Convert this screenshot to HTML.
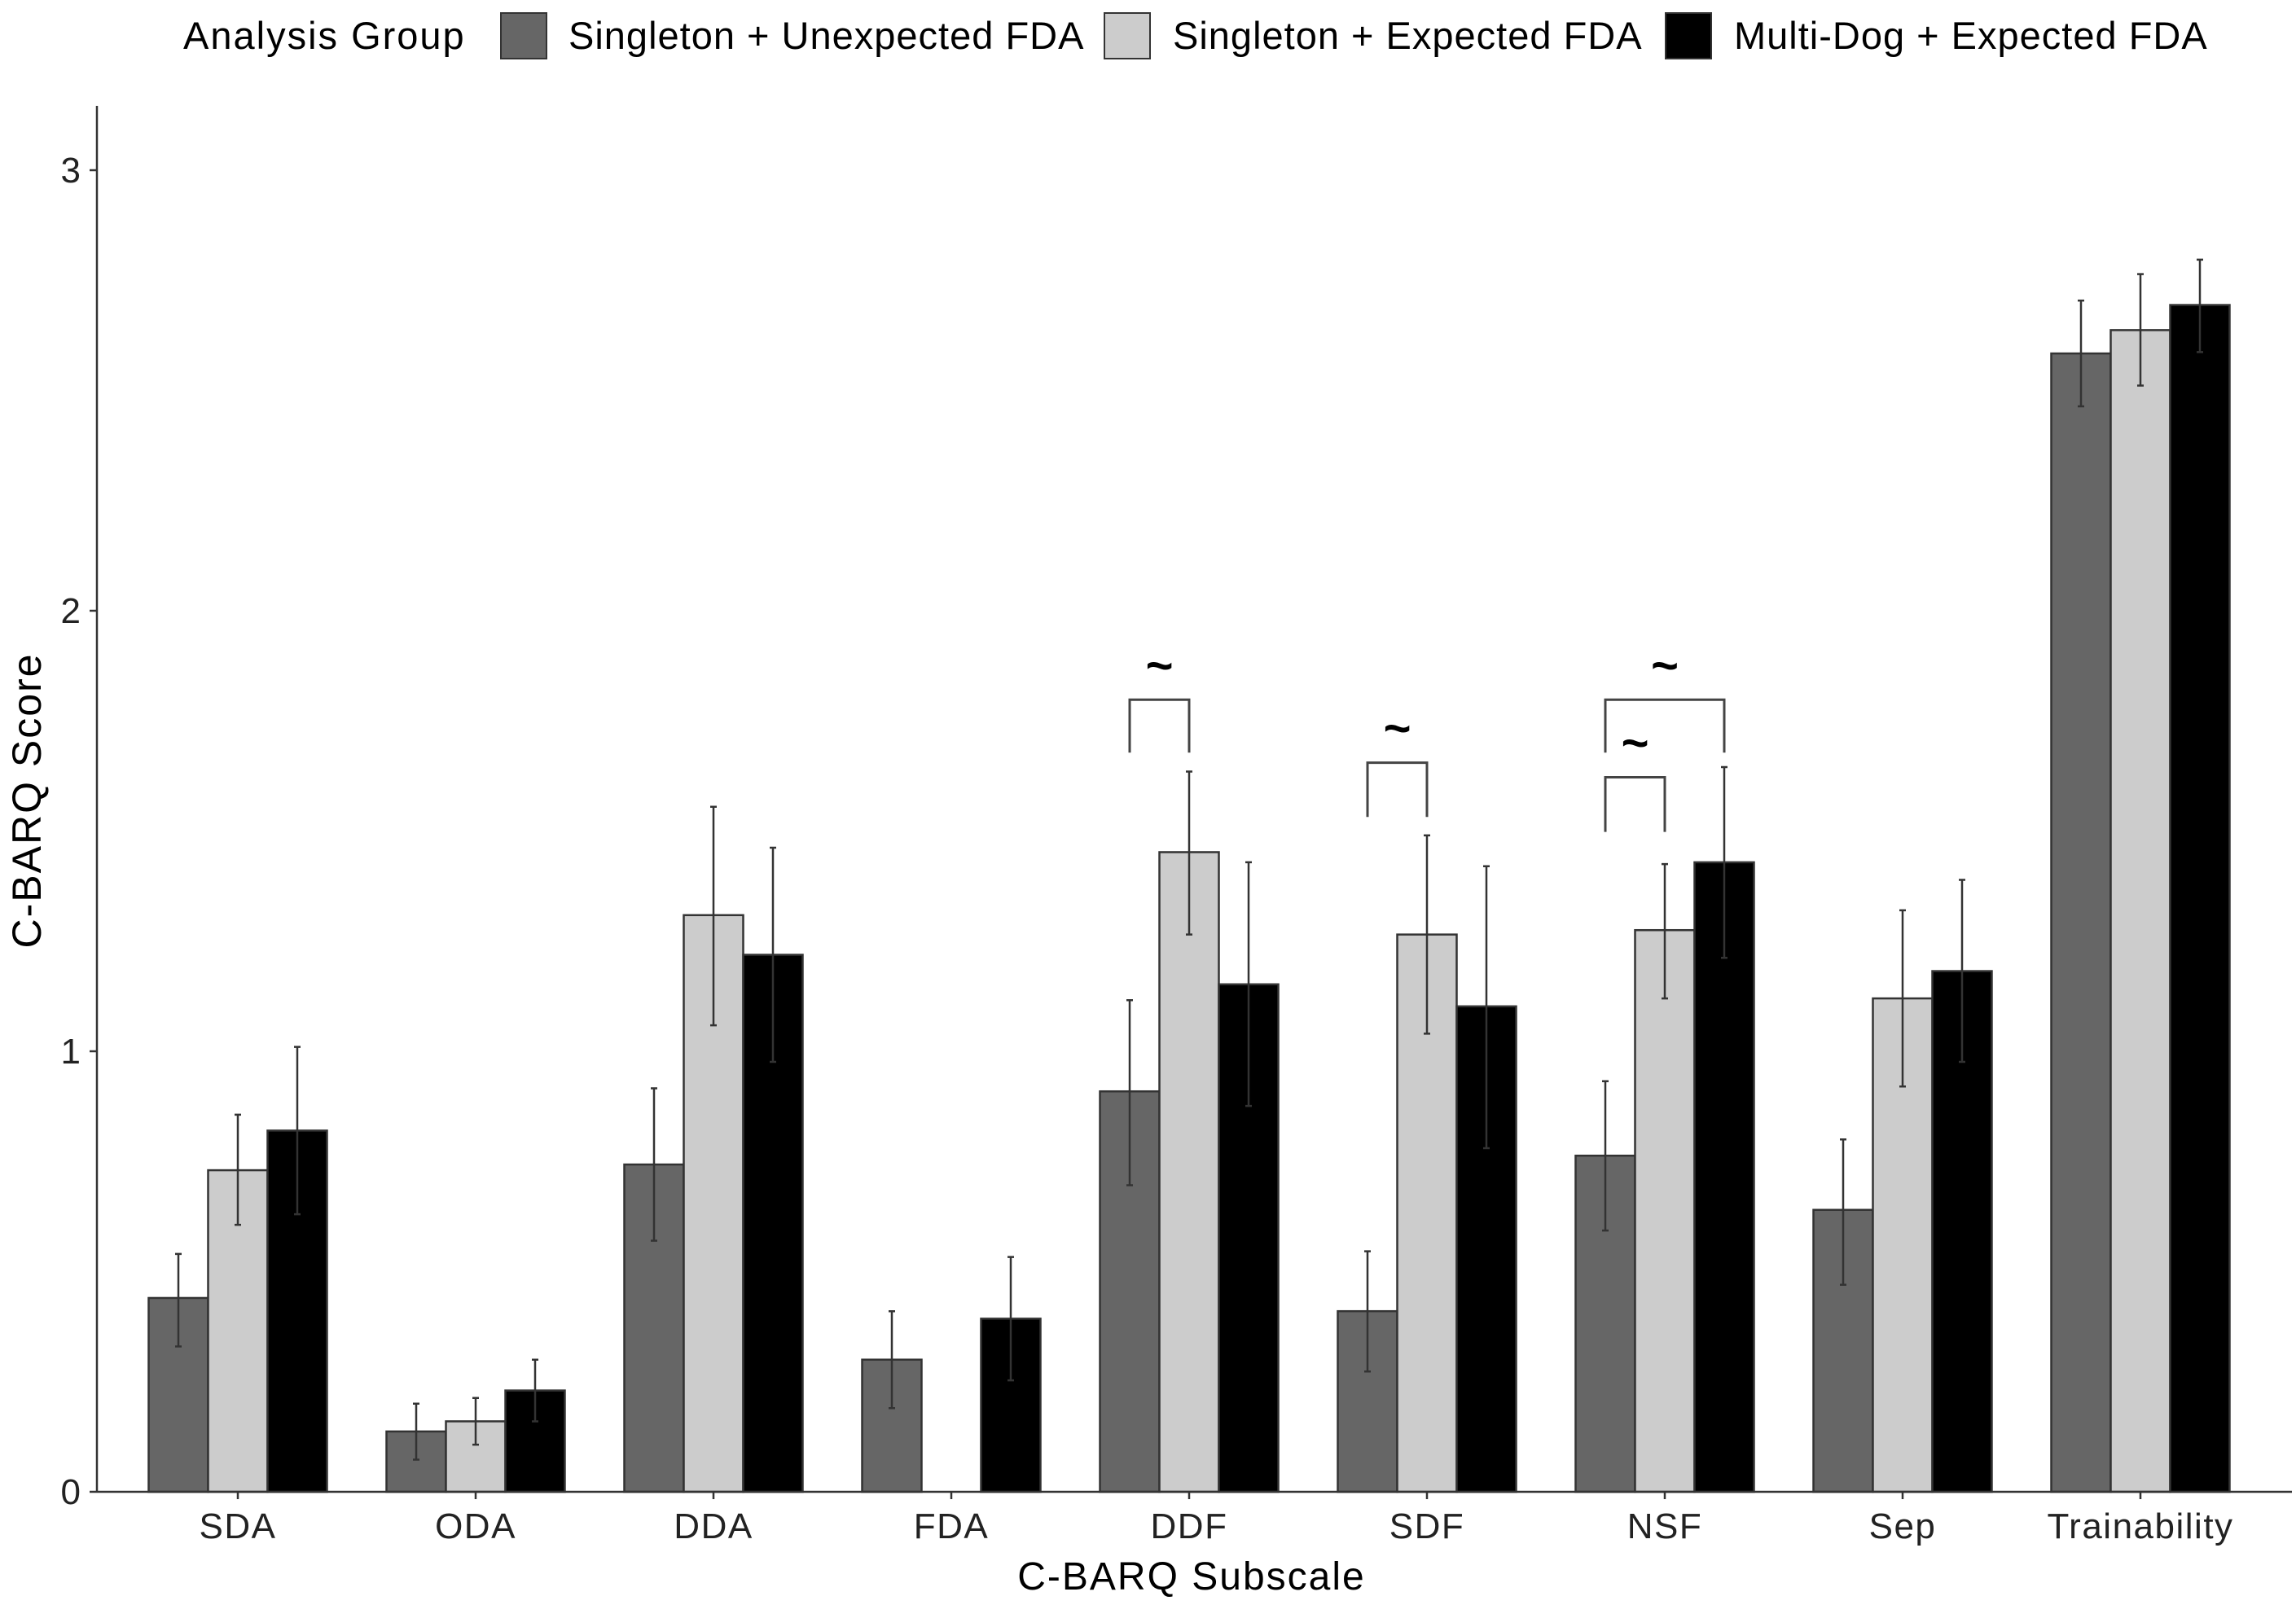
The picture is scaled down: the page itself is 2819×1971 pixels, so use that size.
<!DOCTYPE html>
<html><head><meta charset="utf-8"><style>
html,body{margin:0;padding:0;background:#fff;}
svg{display:block;font-family:"Liberation Sans",Arial,sans-serif;}
</style></head><body>
<svg id="chart" width="2819" height="1971" viewBox="0 0 2819 1971" xmlns="http://www.w3.org/2000/svg">
<g id="legend" font-size="47" letter-spacing="1">
<text x="225" y="60" fill="#000" letter-spacing="2">Analysis Group</text>
<g><rect x="615" y="16" width="56" height="56" fill="#666" stroke="#333" stroke-width="2"/><text x="698" y="60">Singleton + Unexpected FDA</text></g>
<g><rect x="1356" y="16" width="56" height="56" fill="#ccc" stroke="#333" stroke-width="2"/><text x="1440" y="60">Singleton + Expected FDA</text></g>
<g><rect x="2045" y="16" width="56" height="56" fill="#000" stroke="#333" stroke-width="2"/><text x="2129" y="60">Multi-Dog + Expected FDA</text></g>
</g>
<g id="plot"></g>
<text x="1463" y="1952" font-size="48" letter-spacing="2" text-anchor="middle">C-BARQ Subscale</text>
<text transform="translate(50,983) rotate(-90)" font-size="50" letter-spacing="2" text-anchor="middle">C-BARQ Score</text>
</svg>
<script>
const categories=["SDA","ODA","DDA","FDA","DDF","SDF","NSF","Sep","Trainability"];
const seriesNames=["Singleton + Unexpected FDA","Singleton + Expected FDA","Multi-Dog + Expected FDA"];
const seriesColors=["#666666","#cccccc","#000000"];
const meanUnexpected=[0.44,0.137,0.743,0.30,0.909,0.41,0.763,0.64,2.584];
const lowUnexpected=[0.33,0.073,0.57,0.19,0.696,0.273,0.593,0.47,2.464];
const highUnexpected=[0.54,0.20,0.916,0.41,1.116,0.546,0.932,0.80,2.704];
const meanExpected=[0.73,0.16,1.309,null,1.452,1.265,1.275,1.12,2.637];
const lowExpected=[0.606,0.107,1.059,null,1.265,1.04,1.12,0.92,2.511];
const highExpected=[0.856,0.213,1.555,null,1.635,1.49,1.425,1.32,2.764];
const meanMulti=[0.82,0.23,1.219,0.393,1.152,1.102,1.429,1.182,2.694];
const lowMulti=[0.63,0.16,0.976,0.253,0.876,0.78,1.212,0.976,2.587];
const highMulti=[1.01,0.30,1.462,0.533,1.429,1.42,1.645,1.389,2.797];
const yTicks=[0,1,2,3];
const bracketCat=[4,5,6,6];
const bracketFrom=[0,0,0,0];
const bracketTo=[1,1,1,2];
const bracketTop=[1.798,1.655,1.622,1.798];
const bracketBottom=[1.678,1.532,1.498,1.678];

const NS="http://www.w3.org/2000/svg";
const plot=document.getElementById('plot');
const X0=119,X1=2814,Y0=1832,UNIT=541,BAND=292.0,BARW=BAND*0.25;
function yScale(v){return Y0-v*UNIT;}
function xCenter(i){return X0+173+i*BAND;}
function xBar(i,s){return xCenter(i)+(s-1)*BARW;}
function mk(tag,attrs){const e=document.createElementNS(NS,tag);for(const k in attrs)e.setAttribute(k,attrs[k]);plot.appendChild(e);return e;}

const means=[meanUnexpected,meanExpected,meanMulti];
const lows=[lowUnexpected,lowExpected,lowMulti];
const highs=[highUnexpected,highExpected,highMulti];
for(let s=0;s<3;s++){
  for(let i=0;i<categories.length;i++){
    const v=means[s][i];if(v==null)continue;
    const cx=xBar(i,s);
    const r=mk('rect',{x:cx-BARW/2,y:yScale(v),width:BARW,height:Y0-yScale(v),fill:seriesColors[s],stroke:'#333',"stroke-width":2.5});
    
    
  }
}
for(let s=0;s<3;s++){
  for(let i=0;i<categories.length;i++){
    if(means[s][i]==null)continue;
    const cx=xBar(i,s),yl=yScale(lows[s][i]),yh=yScale(highs[s][i]);
    const p=mk('path',{d:`M${cx},${yl}V${yh}M${cx-4},${yl}H${cx+4}M${cx-4},${yh}H${cx+4}`,stroke:'#333',"stroke-width":2.5,fill:'none'});
    
    
  }
}
for(let b=0;b<bracketCat.length;b++){
  const xa=xBar(bracketCat[b],bracketFrom[b]),xb=xBar(bracketCat[b],bracketTo[b]);
  const yt=yScale(bracketTop[b]),yb=yScale(bracketBottom[b]);
  const p=mk('path',{d:`M${xa},${yb}V${yt}H${xb}V${yb}`,stroke:'#444',"stroke-width":3,fill:'none'});
  
  
  const t=mk('text',{x:(xa+xb)/2,y:yt-22,"font-size":58,"font-weight":"bold","text-anchor":"middle"});
  t.textContent='~';
  
  
}
const ya=mk('line',{x1:X0,y1:130,x2:X0,y2:Y0,stroke:'#333',"stroke-width":2.5});


const xa=mk('line',{x1:X0,y1:Y0,x2:X1,y2:Y0,stroke:'#333',"stroke-width":2.5});


for(const t of yTicks){
  const l=mk('line',{x1:X0-9,y1:yScale(t),x2:X0,y2:yScale(t),stroke:'#333',"stroke-width":2.5});
  
  
  const tx=mk('text',{x:X0-20,y:yScale(t)+15,"font-size":44,"text-anchor":"end",fill:'#222'});
  tx.textContent=String(t);
  
  
}
for(let i=0;i<categories.length;i++){
  const l=mk('line',{x1:xCenter(i),y1:Y0,x2:xCenter(i),y2:Y0+9,stroke:'#333',"stroke-width":2.5});
  
  
  const tx=mk('text',{x:xCenter(i),y:1889,"font-size":44,"letter-spacing":1.5,"text-anchor":"middle",fill:'#222'});
  tx.textContent=categories[i];
  
  
}
</script>
</body></html>
